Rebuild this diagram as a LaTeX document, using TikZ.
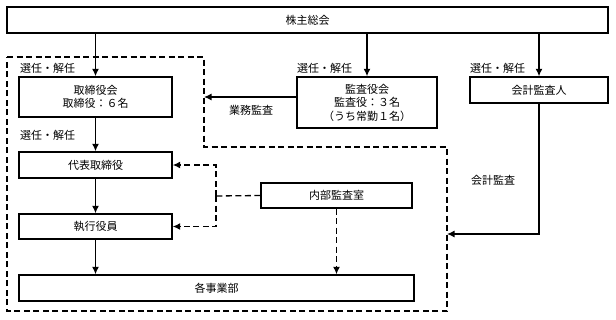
\documentclass[tikz,border=0pt]{standalone}
\usepackage{fontspec}
\setmainfont{Noto Sans CJK JP}
\usetikzlibrary{arrows.meta}
\begin{document}
\begin{tikzpicture}[x=1pt,y=-1pt,
  box/.style={draw,line width=1.4pt,inner sep=0pt,font=\fontsize{11pt}{13.5pt}\selectfont,align=center},
  lbl/.style={font=\fontsize{11pt}{13pt}\selectfont,inner sep=0pt},
  arr/.style={line width=1.3pt,-{Latex[length=7.5pt,width=7pt]}},
  darr/.style={line width=1.3pt,dash pattern=on 6pt off 3.5pt,-{Latex[length=7.5pt,width=7pt]}},
  dln/.style={line width=1.3pt,dash pattern=on 6pt off 3.5pt}]
\useasboundingbox (0,0) rectangle (616,319);
% boxes
\node[box,minimum width=601pt,minimum height=26pt] (kabu) at (307.5,20) {株主総会};
\node[box,minimum width=153pt,minimum height=40pt] (tori) at (95.5,97) {取締役会\\取締役：６名};
\node[box,minimum width=140pt,minimum height=51pt] (kansa) at (367,102.5) {監査役会\\監査役：３名\\（うち常勤１名）};
\node[box,minimum width=138pt,minimum height=26pt] (kaikei) at (539,90) {会計監査人};
\node[box,minimum width=153pt,minimum height=26pt] (daihyo) at (95.5,165) {代表取締役};
\node[box,minimum width=153pt,minimum height=25pt] (shikko) at (95.5,226.5) {執行役員};
\node[box,minimum width=395pt,minimum height=26pt] (jigyo) at (216.5,288) {各事業部};
\node[box,minimum width=151pt,minimum height=25pt] (naibu) at (336.5,195.5) {内部監査室};
% dashed region
\draw[dln] (7,57) -- (204,57) -- (204,147) -- (447,147) -- (447,311) -- (7,311) -- cycle;
% labels
\node[lbl,anchor=west] (l1) at (20,68) {選任・解任};
\node[lbl,anchor=west] (l2) at (20,135) {選任・解任};
\node[lbl,anchor=west] (l3) at (297,68) {選任・解任};
\node[lbl,anchor=west] (l4) at (470,68) {選任・解任};
\node[lbl] (gyomu) at (251,110) {業務監査};
\node[lbl] (kaikeikansa) at (493,180) {会計監査};
% coordinates
\coordinate (bnd1) at (204,97);
\coordinate (bnd2) at (447,234);
\coordinate (kk) at (539,234);
\coordinate (dj) at (216,196);
\coordinate (dt) at (216,165);
\coordinate (ds) at (216,226.5);
% solid arrows
\draw[arr] (kabu.south -| tori.north) -- (tori.north);
\draw[arr] (kabu.south -| kansa.north) -- (kansa.north);
\draw[arr] (kabu.south -| kaikei.north) -- (kaikei.north);
\draw[arr] (kansa.west |- bnd1) -- (bnd1);
\draw[arr] (tori.south) -- (daihyo.north);
\draw[arr] (daihyo.south) -- (shikko.north);
\draw[arr] (shikko.south) -- (jigyo.north -| shikko.south);
\draw[arr] (kaikei.south) -- (kk) -- (bnd2);
% dashed arrows
\draw[dln] (naibu.west) -- (dj);
\draw[darr] (dj) -- (dt) -- (daihyo.east);
\draw[darr] (dj) -- (ds) -- (shikko.east);
\draw[darr] (naibu.south) -- (jigyo.north -| naibu.south);
\end{tikzpicture}
\end{document}
